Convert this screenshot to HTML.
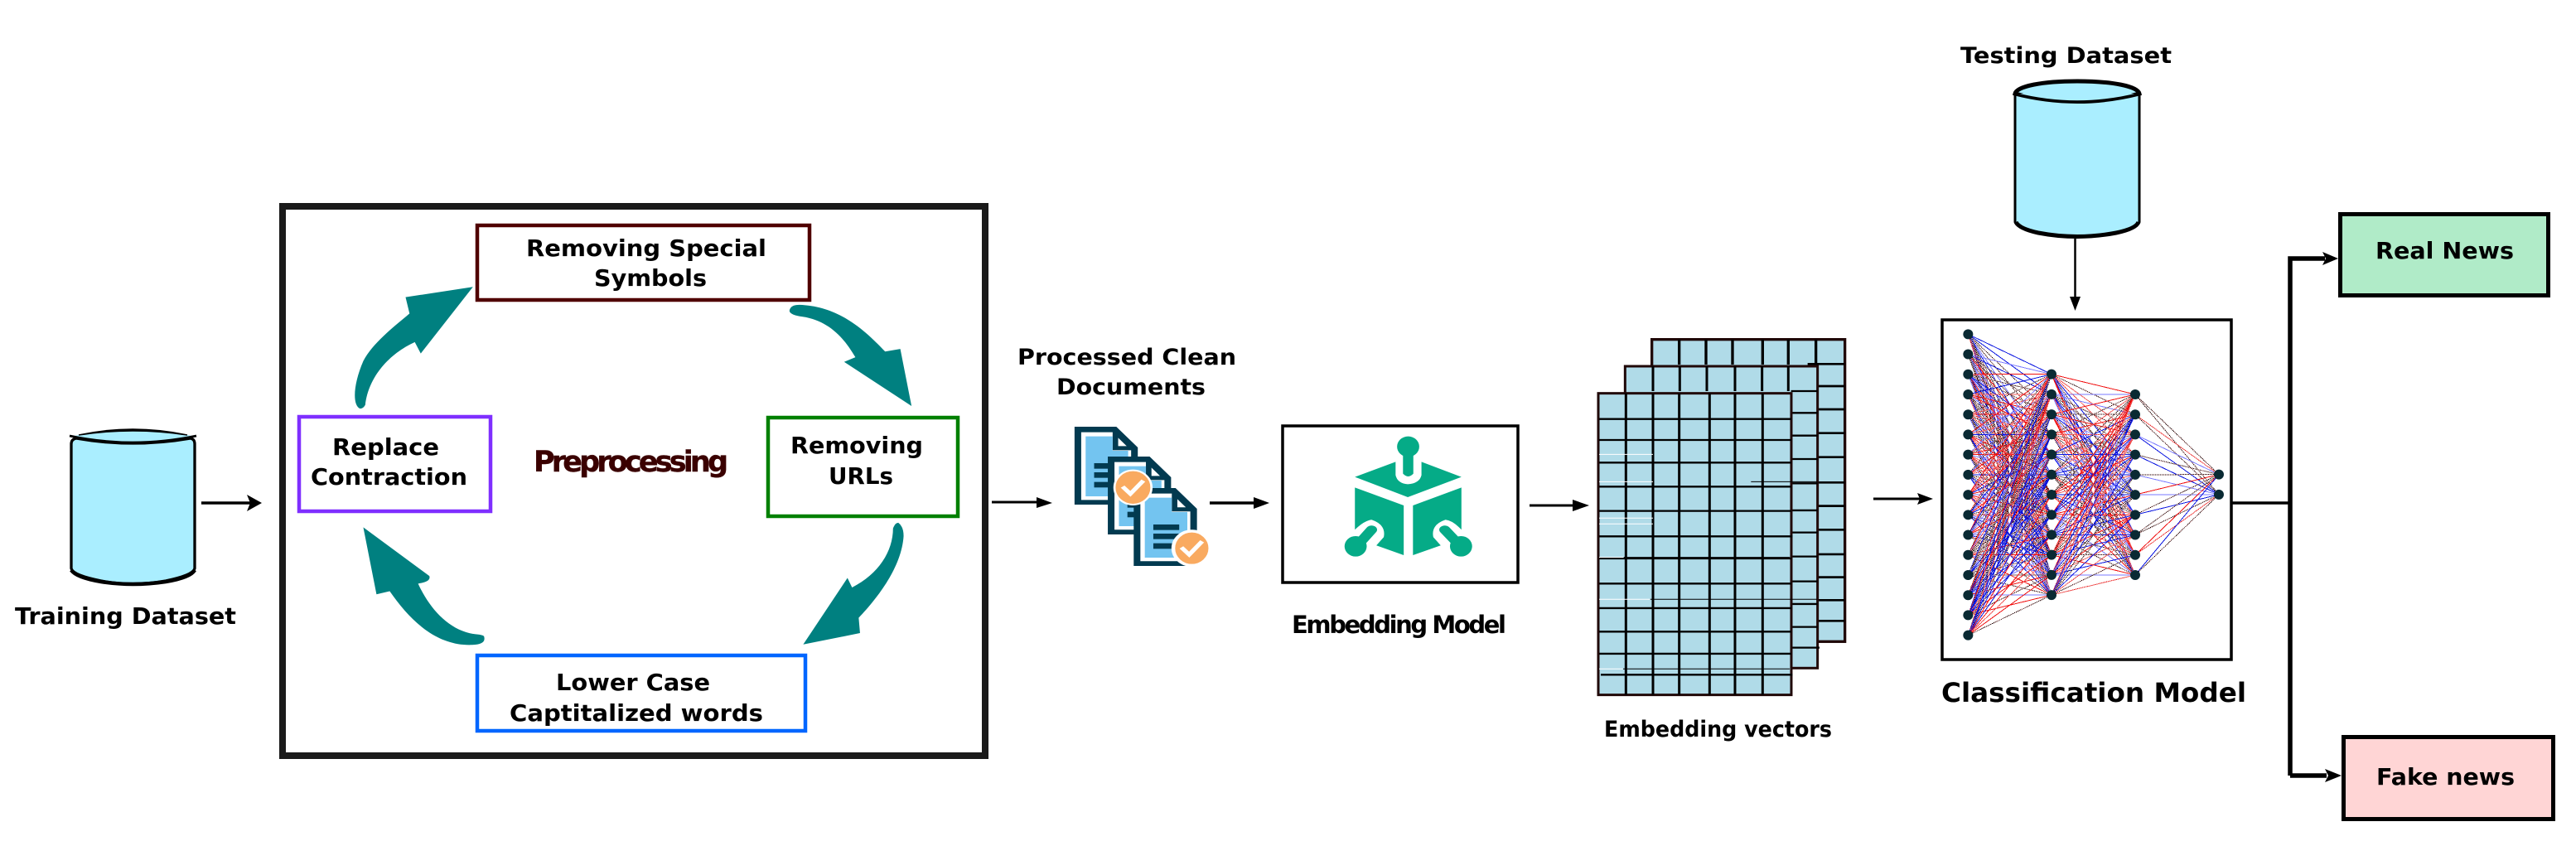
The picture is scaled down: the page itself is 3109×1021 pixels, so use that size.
<!DOCTYPE html>
<html><head><meta charset="utf-8"><style>
html,body{margin:0;padding:0;background:#fff}
svg{display:block}
text{font-family:"DejaVu Sans","Liberation Sans",sans-serif;font-weight:bold;fill:#000}
</style></head><body>
<svg xmlns="http://www.w3.org/2000/svg" width="3109" height="1021" viewBox="0 0 3109 1021">
<rect width="3109" height="1021" fill="#fff"/>

<!-- Training cylinder -->
<g>
<path d="M86 536Q86 530 92 529Q160 541 230 529Q235 530 235 536V686Q233 694 200 701Q160 708 122 701Q88 694 86 686Z" fill="#aaeeff" stroke="#000" stroke-width="3.300"/>
<path d="M85 527Q160 510 236 527Q160 540 85 527Z" fill="#aaeeff"/>
<path d="M95 525Q160 511 226 525Q160 515 95 525Z" fill="#000" stroke="#000" stroke-width="1.500"/>
<path d="M84 526Q160 542 237 526" fill="none" stroke="#000" stroke-width="2.800"/>
<path d="M86 688Q92 697 122 702Q160 708 200 702Q230 697 235 688" fill="none" stroke="#000" stroke-width="4.500"/>
</g>
<text x="18" y="753" font-size="28" textLength="267" lengthAdjust="spacingAndGlyphs">Training Dataset</text>

<!-- Arrows -->
<g stroke="#000" fill="#000">
<path d="M243 607H305" stroke-width="3.500" fill="none"/><path d="M298 597L316 607L298 617L302 607Z" stroke="none"/>
<path d="M1197 606H1258" stroke-width="3" fill="none"/><path d="M1251 600V613L1270 607Z" stroke="none"/>
<path d="M1460 607H1520" stroke-width="3.500" fill="none"/><path d="M1513 600V614L1532 607Z" stroke="none"/>
<path d="M1846 610H1905" stroke-width="3" fill="none"/><path d="M1898 603L1918 610L1898 617Z" stroke="none"/>
<path d="M2261 602H2320" stroke-width="3" fill="none"/><path d="M2314 595L2333 602L2314 609L2317 602Z" stroke="none"/>
<path d="M2504.500 288V365" stroke-width="2.500" fill="none"/><path d="M2498 358H2511L2504.500 375Z" stroke="none"/>
</g>

<!-- Preprocessing -->
<rect x="341" y="249" width="848" height="663" fill="#fff" stroke="#1a1a1a" stroke-width="8"/>
<g fill="#fff" stroke-width="4.500">
<rect x="576" y="272" width="401" height="90" stroke="#500000"/>
<rect x="361" y="503" width="231" height="114" stroke="#7f2fff"/>
<rect x="927" y="504" width="229" height="119" stroke="#008000"/>
<rect x="576" y="791" width="396" height="91" stroke="#0066ff"/>
</g>
<g font-size="28">
<text x="635" y="309" textLength="290" lengthAdjust="spacingAndGlyphs">Removing Special</text>
<text x="717" y="345" textLength="136" lengthAdjust="spacingAndGlyphs">Symbols</text>
<text x="401" y="549" textLength="129" lengthAdjust="spacingAndGlyphs">Replace</text>
<text x="375" y="585" textLength="189" lengthAdjust="spacingAndGlyphs">Contraction</text>
<text x="954" y="547" textLength="160" lengthAdjust="spacingAndGlyphs">Removing</text>
<text x="1000" y="584" textLength="78" lengthAdjust="spacingAndGlyphs">URLs</text>
<text x="671" y="833" textLength="186" lengthAdjust="spacingAndGlyphs">Lower Case</text>
<text x="615" y="870" textLength="306" lengthAdjust="spacingAndGlyphs">Captitalized words</text>
</g>
<text x="644" y="569" font-size="35" textLength="235" lengthAdjust="spacing" style="fill:#3a0000;stroke:#3a0000;stroke-width:.4">Preprocessing</text>

<!-- Teal arrows (zoom coordinates) -->
<g transform="translate(0,220) scale(.7972,.4591)" fill="#008080">
<path d="M545 595C533 585 535 530 550 470C565 420 600 375 620 345L614 302L716 275L637 450L628 420C590 450 558 510 553 585Q550 595 545 595Z"/>
<path d="M1210 322C1270 325 1310 390 1340 445L1363 438L1380 588L1278 472L1295 460C1275 400 1250 360 1210 352Q1190 345 1197 330Q1200 322 1210 322Z"/>
<path d="M1368 930C1365 1010 1330 1090 1300 1145L1302 1185L1216 1215L1283 1040L1290 1065C1330 1030 1352 970 1352 910Q1355 895 1360 895Q1368 905 1368 930Z"/>
<path d="M733 1195Q736 1215 715 1216C660 1220 620 1150 590 1075L570 1083L550 907L650 1035Q653 1050 633 1055C650 1120 680 1180 720 1188Q733 1190 733 1195Z"/>
</g>

<!-- Clean docs label -->
<text x="1228" y="440" font-size="27" textLength="264" lengthAdjust="spacingAndGlyphs">Processed Clean</text>
<text x="1275" y="476" font-size="27" textLength="180" lengthAdjust="spacingAndGlyphs">Documents</text>

<!-- Docs icon (zoom coordinates) -->
<g transform="translate(1200,400) scale(.4464,.3333)">
<g>
<path d="M217 345H330L388 420V627H217Z" fill="#023a50"/><path d="M235 365H320V430H370V610H235Z" fill="#fff"/><path d="M247 380H320V432H362V597H247Z" fill="#73c4f0"/><path d="M335 385L358 415H335Z" fill="#fff"/>
<rect x="270" y="477" width="70" height="20" fill="#023a50"/><rect x="270" y="510" width="70" height="20" fill="#023a50"/><rect x="270" y="545" width="70" height="20" fill="#023a50"/>
</g>
<g transform="translate(90,108)">
<path d="M217 345H330L388 420V627H217Z" fill="#023a50"/><path d="M235 365H320V430H370V610H235Z" fill="#fff"/><path d="M247 380H320V432H362V597H247Z" fill="#73c4f0"/><path d="M335 385L358 415H335Z" fill="#fff"/>
<rect x="270" y="477" width="70" height="20" fill="#023a50"/><rect x="270" y="510" width="70" height="20" fill="#023a50"/><rect x="270" y="545" width="70" height="20" fill="#023a50"/>
<ellipse cx="375" cy="565" rx="50" ry="62" fill="#f9aa60"/>
</g>
<g transform="translate(160,222)">
<path d="M217 345H330L388 420V627H217Z" fill="#023a50"/><path d="M235 365H320V430H370V610H235Z" fill="#fff"/><path d="M247 380H320V432H362V597H247Z" fill="#73c4f0"/><path d="M335 385L358 415H335Z" fill="#fff"/>
<rect x="270" y="477" width="70" height="20" fill="#023a50"/><rect x="270" y="510" width="70" height="20" fill="#023a50"/><rect x="270" y="545" width="70" height="20" fill="#023a50"/>
</g>
<ellipse cx="375" cy="565" rx="50" ry="62" fill="#f9aa60" stroke="#fff" stroke-width="6"/>
<path d="M347 562L368 588L403 540" fill="none" stroke="#fff" stroke-width="13"/>
<ellipse cx="534" cy="785" rx="50" ry="62" fill="#f9aa60" stroke="#fff" stroke-width="10"/>
<path d="M506 782L527 808L562 760" fill="none" stroke="#fff" stroke-width="13"/>
</g>

<!-- Embedding model -->
<rect x="1548" y="514" width="284" height="189" fill="#fff" stroke="#000" stroke-width="3.500"/>
<g transform="translate(1200,400) scale(.4464,.3333)" fill="#05ab87">
<path d="M975 527L1085 472V520Q1090 550 1118 553Q1150 550 1155 520V472L1263 527L1118 600Z"/>
<ellipse cx="1119" cy="417" rx="30" ry="37"/>
<path d="M1105 435H1133V515Q1119 535 1105 515Z"/>
<path d="M975 565L1107 630V810L1033 775L1053 745Q1060 700 1020 682Q1000 685 975 718Z"/>
<path d="M1263 565L1132 630V810L1207 775L1187 745Q1180 700 1220 682Q1240 685 1263 718Z"/>
<path d="M1020 718L985 770" stroke="#05ab87" stroke-width="30" stroke-linecap="round" fill="none"/>
<path d="M1218 718L1255 770" stroke="#05ab87" stroke-width="30" stroke-linecap="round" fill="none"/>
<ellipse cx="977" cy="778" rx="30" ry="37"/>
<ellipse cx="1262" cy="778" rx="30" ry="37"/>
</g>
<text x="1559" y="764" font-size="29" textLength="259" lengthAdjust="spacing">Embedding Model</text>

<!-- Embedding grids (zoom coordinates) -->
<g transform="translate(1900,380) scale(.3333)" stroke="#000" fill="none">
<rect x="281" y="89" width="699" height="1094" fill="#b0dbe8" stroke="#200808" stroke-width="10"/>
<path stroke-width="10" d="M380 89V180M477 89V180M573 89V180M682 89V180M775 89V180M875 89V180"/>
<path stroke-width="8" d="M845 178H980M880 258H980M880 342H980M880 428H980M880 515H980M880 607H980M880 692H980M880 778H980M880 867H980M880 950H980M880 1033H980M880 1108H980"/>
<rect x="184" y="186" width="697" height="1093" fill="#b0dbe8" stroke="#200808" stroke-width="9"/>
<path stroke-width="9" d="M285 186V276M382 186V276M480 186V276M582 186V276M680 186V276M775 186V276"/>
<path stroke-width="7" d="M785 276H881M785 355H881M785 437H881M785 522H881M785 610H881M785 708H881M785 788H881M785 875H881M785 965H881M785 1047H881M785 1130H881M785 1205H888"/>
<rect x="87" y="284" width="699" height="1092" fill="#b0dbe8" stroke="#200808" stroke-width="9"/>
<path stroke-width="9" d="M187 284V1376M285 284V1376M380 284V1376M490 284V1376M582 284V1376M682 284V1376"/>
<path stroke-width="7" d="M90 377H786M90 453H786M90 535H786M90 622H786M90 710H786M90 802H790M90 882H786M90 973H786M90 1062H786M90 1147H786M90 1227H786M96 1303H790"/>
<path stroke-width="3" d="M640 604H880M180 878H780M275 1030H880M177 1282H780"/>
<path stroke="#fff" stroke-width="3" d="M90 505H285M90 604H285M90 736H285M90 757H285M90 878H178M90 1030H275M90 1282H176"/>
</g>
<text x="1936" y="889" font-size="27" textLength="275" lengthAdjust="spacingAndGlyphs">Embedding vectors</text>

<!-- Testing -->
<text x="2366" y="76" font-size="27" textLength="255" lengthAdjust="spacingAndGlyphs">Testing Dataset</text>
<path d="M2432 113V268Q2436 276 2460 281Q2507 290 2554 281Q2578 276 2582 268V113Z" fill="#aaeeff" stroke="#000" stroke-width="3"/>
<path d="M2507 98C2465 98 2434 104 2432 113Q2507 132 2582 113C2580 104 2549 98 2507 98Z" fill="#aaeeff" stroke="#000" stroke-width="5"/>
<path d="M2432 113Q2507 132 2582 113" fill="#aaeeff" stroke="#000" stroke-width="2.500"/>
<path d="M2433 268Q2437 276 2460 281Q2507 290 2554 281Q2578 276 2581 268" fill="none" stroke="#000" stroke-width="5"/>

<!-- Classification -->
<rect x="2344" y="386" width="349" height="410" fill="#fff" stroke="#000" stroke-width="3.500"/>
<g id="edges" transform="translate(2300,360) scale(.3333)" fill="none" shape-rendering="crispEdges"></g>
<g id="nodes" transform="translate(2300,360) scale(.3333)" fill="#0a2a33"></g>
<text x="2343" y="847" font-size="32" textLength="368" lengthAdjust="spacingAndGlyphs">Classification Model</text>

<!-- Outputs -->
<path d="M2693 607H2764" fill="none" stroke="#000" stroke-width="3.500"/>
<path d="M2764 936V312H2806M2764 936H2808" fill="none" stroke="#000" stroke-width="5.500"/>
<path d="M2803 304L2822 312L2803 320L2807 312Z" fill="#000"/>
<path d="M2806 928L2826 936L2806 944L2810 936Z" fill="#000"/>
<rect x="2824.500" y="258.500" width="251" height="98" fill="#b0ebc8" stroke="#000" stroke-width="5"/>
<rect x="2828.500" y="889.500" width="253" height="99" fill="#ffd5d5" stroke="#000" stroke-width="5"/>
<text x="2867" y="312" font-size="28" textLength="167" lengthAdjust="spacingAndGlyphs">Real News</text>
<text x="2868" y="947" font-size="28" textLength="167" lengthAdjust="spacingAndGlyphs">Fake news</text>
</svg>
<script>
(function(){
var NS="http://www.w3.org/2000/svg",S=12345;
function r(){S=(S*1664525+1013904223)%4294967296;return S/4294967296;}
function ys(a,n){var o=[];for(var i=0;i<n;i++)o.push(a+i*72.67);return o;}
var L=[[226,ys(130,16)],[528,ys(275,12)],[831,ys(348,10)],[1134,ys(638,2)]];
var e=document.getElementById("edges"),n=document.getElementById("nodes");
function seg(x1,y1,x2,y2,c,d){
 var p=document.createElementNS(NS,"line");
 p.setAttribute("x1",x1);p.setAttribute("y1",y1);p.setAttribute("x2",x2);p.setAttribute("y2",y2);
 p.setAttribute("stroke",c);p.setAttribute("stroke-width",3);
 if(d)p.setAttribute("stroke-dasharray",d);
 e.appendChild(p);
}
function line(x1,y1,x2,y2){
 var v=r();
 if(v<.24){seg(x1,y1,x2,y2,"#0a14e0");}
 else if(v<.40){seg(x1,y1,x2,y2,"#f01010");}
 else if(v<.70){seg(x1,y1,x2,y2,"#ffc0c0");seg(x1,y1,x2,y2,"#000","3 3");}
 else if(v<.85){seg(x1,y1,x2,y2,"#ffa0a0");seg(x1,y1,x2,y2,"#e01010","3 3");}
 else{seg(x1,y1,x2,y2,"#7a7aff");}
}
for(var k=0;k<3;k++){
 L[k][1].forEach(function(a){L[k+1][1].forEach(function(b){line(L[k][0],a,L[k+1][0],b);});});
}
L.forEach(function(l){l[1].forEach(function(y){
 var c=document.createElementNS(NS,"circle");
 c.setAttribute("cx",l[0]);c.setAttribute("cy",y);c.setAttribute("r",18);n.appendChild(c);
});});
})();
</script>
</body></html>
